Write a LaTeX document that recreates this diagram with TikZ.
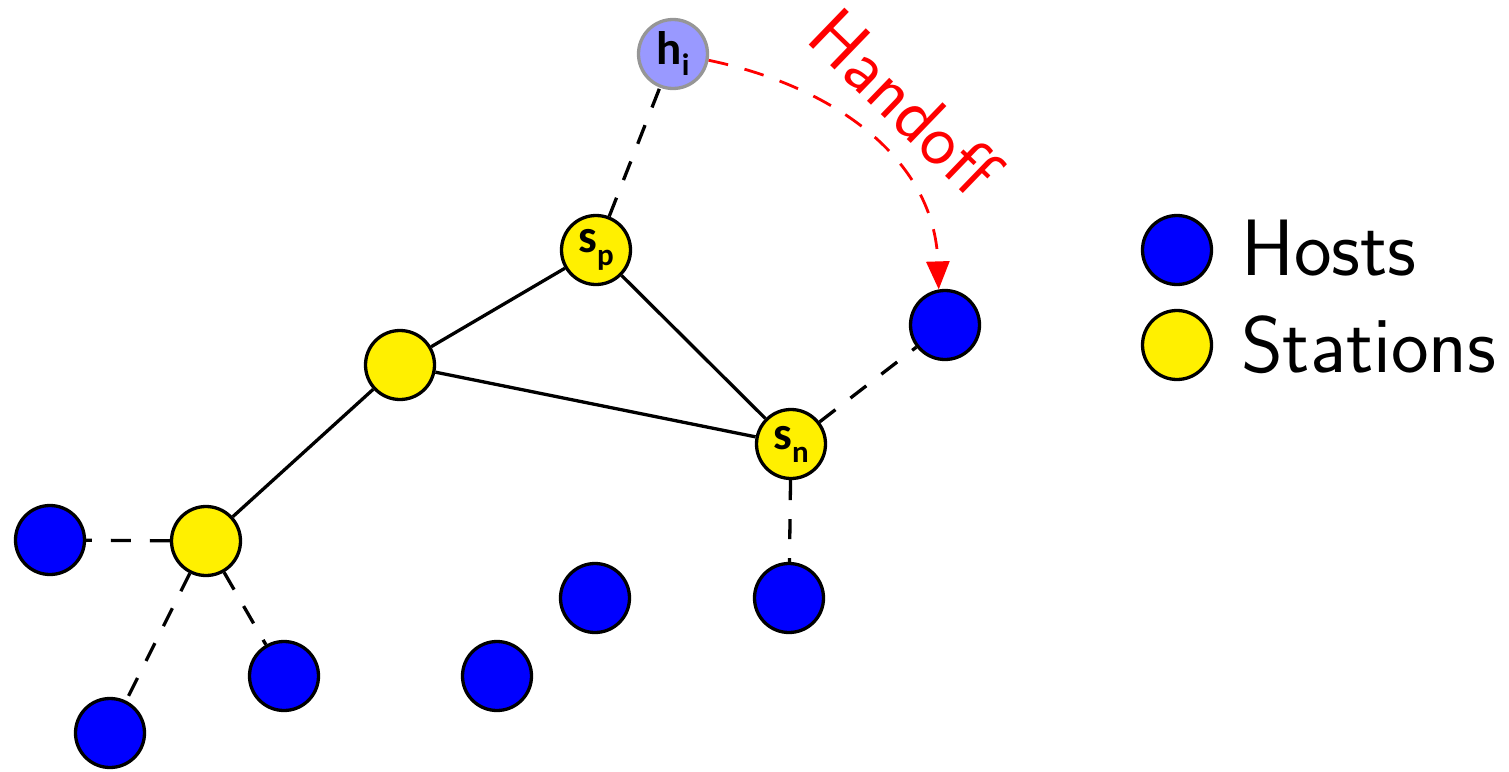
\documentclass[tikz,border=0pt]{standalone}
\usepackage{fontspec}
\newfontfamily\labfont{Carlito}
\usetikzlibrary{arrows.meta}
\definecolor{hostblue}{RGB}{0,0,255}
\definecolor{styellow}{RGB}{255,240,0}
\definecolor{hilav}{RGB}{153,153,255}
\definecolor{higray}{RGB}{150,150,150}
\begin{document}
\begin{tikzpicture}[x=1pt,y=-1pt,
  host/.style={circle,draw=black,line width=3.3pt,fill=hostblue,minimum size=69pt,inner sep=0pt},
  station/.style={host,fill=styellow},
  wire/.style={line width=3.3pt},
  link/.style={line width=3.3pt,dash pattern=on 20pt off 19pt},
  lab/.style={font=\labfont\bfseries\fontsize{47}{47}\selectfont},
  legtext/.style={anchor=base west,inner sep=0pt,font=\sffamily\fontsize{80}{88}\selectfont}]
\useasboundingbox (0,0) rectangle (1509,771);
% nodes
\node[host,fill=hilav,draw=higray,lab] (hi) at (673,54) {h\raisebox{-11pt}{\fontsize{31}{31}\selectfont i}};
\node[station,lab] (sp) at (596,250) {s\raisebox{-13pt}{\fontsize{31}{31}\selectfont p}};
\node[station] (sm) at (400,365) {};
\node[station,lab] (sn) at (791,444) {s\raisebox{-13pt}{\fontsize{31}{31}\selectfont n}};
\node[station] (sl) at (206,541) {};
\node[host] (hr) at (945,325) {};
\node[host] (h1) at (50,540) {};
\node[host] (h2) at (110,733) {};
\node[host] (h3) at (284,676) {};
\node[host] (h4) at (497,676) {};
\node[host] (h5) at (595,598) {};
\node[host] (h6) at (789,598) {};
% solid links
\draw[wire] (sp) -- (sm);
\draw[wire] (sp) -- (sn);
\draw[wire] (sm) -- (sn);
\draw[wire] (sm) -- (sl);
% dashed links
\draw[link] (sp) -- (hi);
\draw[link] (sl) -- (h1);
\draw[link] (sl) -- (h2);
\draw[link] (sl) -- (h3);
\draw[link] (sn) -- (hr);
\draw[link] (sn) -- (h6);
% handoff
\draw[red,line width=2.8pt,dash pattern=on 20pt off 17pt,-{Triangle[length=28pt,width=23pt]}]
  (hi.-10) .. controls +(126,26) and +(-4,-130) .. (hr.100);
\node[legtext,text=red,rotate=-44,font=\sffamily\fontsize{74}{76}\selectfont] (ho) at (804,40) {Handoff};
% legend
\node[host] (lh) at (1177,250) {};
\node[station] (ls) at (1177,345) {};
\node[legtext] (lht) at (1241,275) {Hosts};
\node[legtext] (lst) at (1241,372) {Stations};
\end{tikzpicture}
\end{document}
